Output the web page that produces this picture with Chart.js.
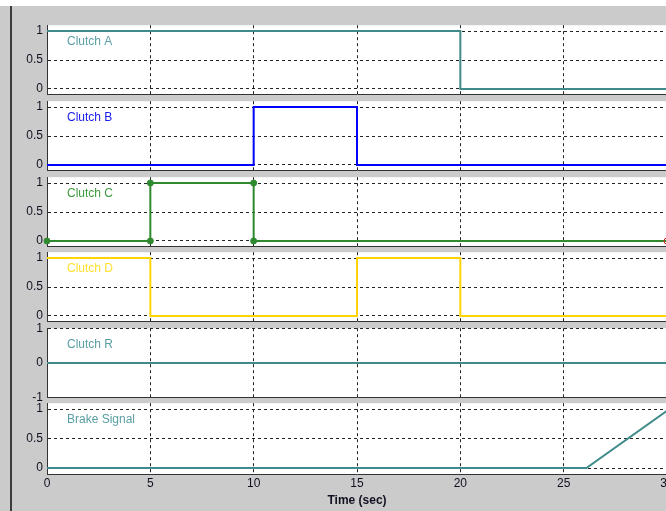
<!DOCTYPE html>
<html><head><meta charset="utf-8">
<script src="https://cdn.jsdelivr.net/npm/chart.js@4"></script>
<style>
html,body{margin:0;padding:0;width:666px;height:511px;overflow:hidden;background:#cbcbcb;}
#topband{position:absolute;left:0;top:0;width:666px;height:6px;background:#fff;}
#vline{position:absolute;left:10px;top:6px;width:2px;height:505px;background:#3c3c3c;}
canvas{position:absolute;left:0;}
</style></head><body>
<div id="topband"></div><div id="vline"></div>
<canvas id="c0" width="700" height="92"></canvas>
<canvas id="c1" width="700" height="92"></canvas>
<canvas id="c2" width="700" height="92"></canvas>
<canvas id="c3" width="700" height="92"></canvas>
<canvas id="c4" width="700" height="92"></canvas>
<canvas id="c5" width="700" height="119"></canvas>
<script>
// ---- data ----
const xTicks = [0, 5, 10, 15, 20, 25, 30];
const panelNames = ['Clutch A', 'Clutch B', 'Clutch C', 'Clutch D', 'Clutch R', 'Brake Signal'];
const clutchA_t = [0, 20, 20, 30];
const clutchA_v = [1, 1, 0, 0];
const clutchB_t = [0, 10, 10, 15, 15, 30];
const clutchB_v = [0, 0, 1, 1, 0, 0];
const clutchC_t = [0, 5, 5, 10, 10, 30];
const clutchC_v = [0, 0, 1, 1, 0, 0];
const clutchD_t = [0, 5, 5, 15, 15, 20, 20, 30];
const clutchD_v = [1, 1, 0, 0, 1, 1, 0, 0];
const clutchR_t = [0, 30];
const clutchR_v = [0, 0];
const brake_t = [0, 26.1, 30];
const brake_v = [0, 0, 0.97];
const yTicks01 = [0, 0.5, 1];
const yTicksR = [-1, 0, 1];
const xAxisTitle = 'Time (sec)';

// ---- styling ----
const FONT = "'Liberation Sans', Arial, sans-serif";
const panelTops = [24, 100, 176, 251, 327, 402];
const PLOT_H = 72;
const PAD = 10;

function pts(t, v) { return t.map((x, i) => ({x: x, y: v[i]})); }

const panelPlugin = {
  id: 'panel',
  beforeDraw(chart, args, opts) {
    const a = chart.chartArea, ctx = chart.ctx;
    ctx.save();
    ctx.fillStyle = '#ffffff';
    ctx.fillRect(a.left, a.top, a.right - a.left, a.bottom - a.top);
    ctx.restore();
  },
  afterDraw(chart, args, opts) {
    const a = chart.chartArea, ctx = chart.ctx;
    ctx.save();
    ctx.font = '12px ' + FONT;
    ctx.fillStyle = opts.color;
    ctx.textBaseline = 'middle';
    ctx.textAlign = 'left';
    ctx.fillText(opts.text, a.left + 20, a.top + 16);
    ctx.restore();
  }
};

const panels = [
  {t: clutchA_t, v: clutchA_v, line: '#3f8b8b', text: '#5a9ea4', ticks: yTicks01, min: -0.1, max: 1.1},
  {t: clutchB_t, v: clutchB_v, line: '#0000ff', text: '#1a1aee', ticks: yTicks01, min: -0.1, max: 1.1},
  {t: clutchC_t, v: clutchC_v, line: '#2f8a2f', text: '#3d9a3d', ticks: yTicks01, min: -0.1, max: 1.1, markers: true},
  {t: clutchD_t, v: clutchD_v, line: '#ffd400', text: '#ffe030', ticks: yTicks01, min: -0.1, max: 1.1},
  {t: clutchR_t, v: clutchR_v, line: '#3f8b8b', text: '#5a9ea4', ticks: yTicksR, min: -1, max: 1},
  {t: brake_t, v: brake_v, line: '#3f8b8b', text: '#5a9ea4', ticks: yTicks01, min: -0.1, max: 1.1}
];

panels.forEach((p, i) => {
  const last = i === panels.length - 1;
  const cv = document.getElementById('c' + i);
  cv.style.top = (panelTops[i] - PAD) + 'px';
  const n = p.t.length;
  const ds = {
    data: pts(p.t, p.v),
    borderColor: p.line,
    borderWidth: 2,
    tension: 0,
    pointRadius: 0,
    fill: false
  };
  if (p.markers) {
    ds.pointRadius = p.t.map((x, k) => 3);
    ds.pointBackgroundColor = p.t.map((x, k) => k === n - 1 ? 'rgba(0,0,0,0)' : p.line);
    ds.pointBorderColor = p.t.map((x, k) => k === n - 1 ? '#e02020' : p.line);
    ds.pointBorderWidth = 1;
    ds.clip = false;
  }
  new Chart(cv, {
    type: 'line',
    data: {datasets: [ds]},
    plugins: [panelPlugin],
    options: {
      responsive: false,
      animation: false,
      events: [],
      layout: {padding: {top: PAD, bottom: last ? 0 : PAD, left: 0, right: 33}},
      plugins: {
        legend: {display: false},
        tooltip: {enabled: false},
        panel: {text: panelNames[i], color: p.text}
      },
      scales: {
        x: {
          type: 'linear', min: 0, max: 30,
          afterBuildTicks: s => { s.ticks = xTicks.map(v => ({value: v})); },
          afterFit: s => { s.height = last ? 37 : 0; },
          grid: {color: '#222222', lineWidth: 1, drawTicks: false},
          border: {display: true, color: '#333333', width: 1, dash: [3, 3]},
          ticks: {
            display: last, padding: 2, color: '#111122',
            font: {family: FONT, size: 12},
            callback: v => String(v), maxRotation: 0
          },
          title: {
            display: last, text: xAxisTitle, color: '#111122',
            font: {family: FONT, size: 12, weight: 'bold'},
            padding: {top: 0, bottom: 3}
          }
        },
        y: {
          type: 'linear', min: p.min, max: p.max,
          afterBuildTicks: s => { s.ticks = p.ticks.map(v => ({value: v})); },
          afterFit: s => { s.width = 47; },
          grid: {color: '#222222', lineWidth: 1, drawTicks: false},
          border: {display: true, color: '#333333', width: 1, dash: [3, 3]},
          ticks: {
            padding: 4, color: '#111122',
            font: {family: FONT, size: 12},
            callback: v => String(v)
          }
        }
      }
    }
  });
});
</script>
</body></html>
